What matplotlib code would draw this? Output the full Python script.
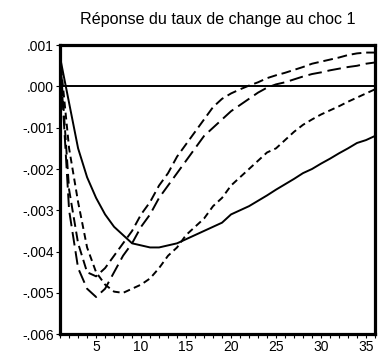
import numpy as np
import matplotlib
matplotlib.use("Agg")
import matplotlib.pyplot as plt
from matplotlib.ticker import FixedLocator, FixedFormatter, MultipleLocator

plt.rcParams['font.family'] = ['Liberation Sans', 'DejaVu Sans']

# periods after the shock
periods = np.arange(1, 37)

# response (solid)
resp = [0.0007, -0.0004, -0.0015, -0.0022, -0.0027, -0.0031, -0.0034, -0.0036,
        -0.0038, -0.00385, -0.0039, -0.0039, -0.00385, -0.0038, -0.0037, -0.0036,
        -0.0035, -0.0034, -0.0033, -0.0031, -0.0030, -0.0029, -0.00277, -0.00264,
        -0.0025, -0.00237, -0.00224, -0.0021, -0.0020, -0.00187, -0.00175, -0.00162,
        -0.0015, -0.00137, -0.0013, -0.0012]

# medium dash, upper at the end
band_a = [0.0007, -0.0025, -0.0038, -0.0045, -0.0046, -0.0044, -0.0041, -0.0038,
          -0.0035, -0.0031, -0.0028, -0.0024, -0.0021, -0.0017, -0.0014, -0.0011,
          -0.0008, -0.0005, -0.0003, -0.00017, -0.00007, 0.00002, 0.0001, 0.0002,
          0.00027, 0.00033, 0.0004, 0.00047, 0.00055, 0.0006, 0.00065, 0.0007,
          0.00076, 0.0008, 0.00082, 0.00082]

# long dash
band_b = [0.0007, -0.0030, -0.0044, -0.0049, -0.0051, -0.0049, -0.0045, -0.0041,
          -0.0038, -0.0034, -0.0031, -0.0027, -0.0024, -0.0021, -0.0018, -0.0015,
          -0.0012, -0.0010, -0.0008, -0.0006, -0.00045, -0.0003, -0.00015, -0.00003,
          0.00005, 0.0001, 0.00017, 0.00024, 0.0003, 0.00034, 0.00039, 0.00043,
          0.00047, 0.0005, 0.00055, 0.00058]

# short dash
band_c = [0.0007, -0.0015, -0.0028, -0.0039, -0.0045, -0.0048, -0.00497, -0.0050,
          -0.0049, -0.0048, -0.00465, -0.0044, -0.0041, -0.0039, -0.0036, -0.0034,
          -0.0032, -0.0029, -0.0027, -0.0024, -0.0022, -0.0020, -0.0018, -0.0016,
          -0.0015, -0.0013, -0.0011, -0.00093, -0.0008, -0.00068, -0.00058, -0.00048,
          -0.00037, -0.00027, -0.00017, -0.00007]

yticks = [-0.006, -0.005, -0.004, -0.003, -0.002, -0.001, 0.0, 0.001]
ylabels = ['-.006', '-.005', '-.004', '-.003', '-.002', '-.001', '.000', '.001']
xticks = [5, 10, 15, 20, 25, 30, 35]
title = 'Réponse du taux de change au choc 1'

fig = plt.figure(figsize=(3.78, 3.64), dpi=100)
ax = fig.add_axes([0.159, 0.082, 0.833, 0.794])

ax.axhline(0, color='black', lw=1.4, zorder=1)
ax.plot(periods, resp, color='black', lw=1.4)
ax.plot(periods, band_a, color='black', lw=1.4, dashes=(5, 2.5))
ax.plot(periods, band_b, color='black', lw=1.4, dashes=(7, 3))
ax.plot(periods, band_c, color='black', lw=1.4, dashes=(3.5, 2.2))

ax.set_xlim(1, 36)
ax.set_ylim(-0.006, 0.001)

ax.yaxis.set_major_locator(FixedLocator(yticks))
ax.yaxis.set_major_formatter(FixedFormatter(ylabels))
ax.xaxis.set_major_locator(FixedLocator(xticks))
ax.xaxis.set_minor_locator(MultipleLocator(1))
ax.tick_params(which='both', direction='out', length=3, width=0.8,
               labelsize=10, pad=1.5)

for s in ax.spines.values():
    s.set_linewidth(2.3)

ax.set_title(title, fontsize=11.6, pad=15)

fig.savefig('out.png', dpi=100)
